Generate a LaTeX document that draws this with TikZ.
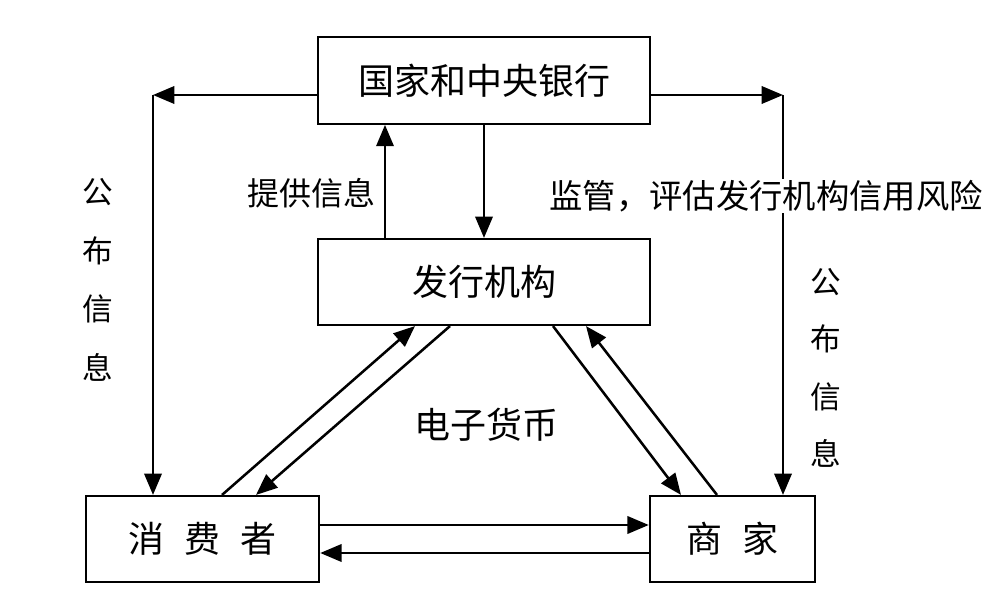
\documentclass[tikz,border=0pt]{standalone}
\usepackage{fontspec}
\setmainfont{Noto Sans CJK SC}
\usetikzlibrary{arrows.meta,calc}

\begin{document}
\begin{tikzpicture}[x=0.75pt, y=-0.75pt,
	box/.style={draw, line width=1.6pt, inner sep=0pt, font=\fontsize{27}{30}\selectfont},
	arr/.style={line width=1.9pt, -{Triangle[length=16pt, width=13pt]}},
	lbl/.style={inner sep=1pt, font=\fontsize{25}{28}\selectfont}]
	\useasboundingbox (0,0) rectangle (1000,609);

	\node[box, minimum width=249pt, minimum height=65pt] (bank) at (484, 80.5) {国家和中央银行};
	\node[box, minimum width=249pt, minimum height=64.5pt] (iss) at (484, 282) {发行机构};
	\node[box, minimum width=175pt, minimum height=64.5pt] (cons) at (202.5, 539) {消\hspace{0.55em}费\hspace{0.55em}者};
	\node[box, minimum width=124pt, minimum height=64.5pt] (merc) at (732.5, 539) {商\hspace{0.55em}家};

	\coordinate (lc) at (153, 95);
	\coordinate (rc) at (783, 95);

	% publish to both sides
	\draw[arr] (bank.west |- lc) -- (lc);
	\draw[arr] (lc) -- (lc |- cons.north);
	\draw[arr] (bank.east |- rc) -- (rc);
	\draw[arr] (rc) -- (rc |- merc.north);

	% between bank and issuer
	\draw[arr] ($(iss.north)+(-99,0)$) -- ($(bank.south)+(-99,0)$);
	\draw[arr] (bank.south) -- (iss.north);

	% electronic money flows
	\draw[arr] ($(cons.north)+(19.5,0)$) -- ($(iss.south)+(-69,0)$);
	\draw[arr] ($(iss.south)+(-34,0)$) -- ($(cons.north)+(53.5,0)$);
	\draw[arr] ($(iss.south)+(69,0)$) -- ($(merc.north)+(-51.5,0)$);
	\draw[arr] ($(merc.north)+(-15.5,0)$) -- ($(iss.south)+(102,0)$);
	\draw[arr] ($(cons.east)+(0,-14)$) -- ($(merc.west)+(0,-14)$);
	\draw[arr] ($(merc.west)+(0,14)$) -- ($(cons.east)+(0,14)$);

	\node[lbl, font=\fontsize{24}{28}\selectfont] (info) at (311, 193) {提供信息};
	\node[lbl, fill=white] (watch) at (766, 196) {监管，评估发行机构信用风险};
	\node[lbl, font=\fontsize{27}{30}\selectfont] (emoney) at (486, 425) {电子货币};
	\node[lbl, align=center, font=\fontsize{23}{44}\selectfont] (publ) at (98, 280) {公\\布\\信\\息};
	\node[lbl, align=center, font=\fontsize{23}{43}\selectfont] (pubr) at (826, 368) {公\\布\\信\\息};
\end{tikzpicture}
\end{document}
